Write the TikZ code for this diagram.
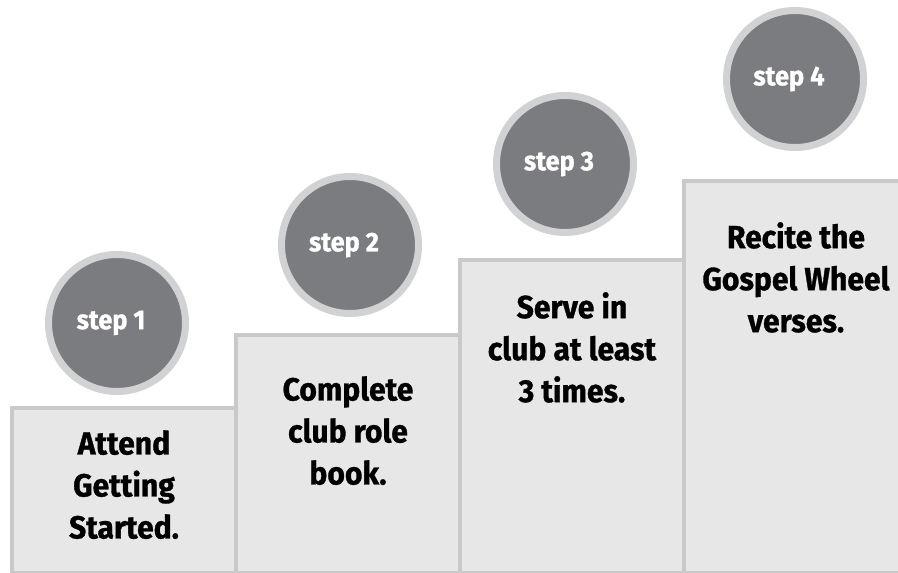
\documentclass[tikz,border=0pt]{standalone}
\usepackage{fontspec}
\setmainfont{Fira Sans}[FakeStretch=0.94,BoldFeatures={FakeBold=1}]
\usepackage{tikz}
\usetikzlibrary{positioning}
\definecolor{stepgray}{HTML}{7B7C80}
\definecolor{ringgray}{HTML}{D1D2D3}
\definecolor{boxfill}{HTML}{E7E7E7}
\definecolor{boxline}{HTML}{C9C9CA}

\begin{document}
\begin{tikzpicture}[x=1pt,y=1pt]
	\tikzstyle{stepbox}=[rectangle,draw=boxline,fill=boxfill,line width=4pt,anchor=south west,minimum width=224pt,inner sep=0pt,outer sep=0pt]
	\tikzstyle{stepdisc}=[circle,fill=stepgray,draw=ringgray,line width=7pt,minimum size=137pt,inner sep=0pt]
	\tikzstyle{disctext}=[text=white,font=\fontsize{27}{30}\selectfont\bfseries,inner sep=0pt]
	\tikzstyle{steptext}=[align=center,font=\fontsize{32}{42}\selectfont\bfseries,inner sep=0pt,anchor=north]
	\useasboundingbox (0,0) rectangle (898,573);
	\fill[white] (0,0) rectangle (898,573);
	% the four stairs
	\node[stepbox,minimum height=165pt](b1) at (12,0){};
	\node[stepbox,minimum height=238pt](b2) at (236,0){};
	\node[stepbox,minimum height=313pt](b3) at (460,0){};
	\node[stepbox,minimum height=392pt](b4) at (684,0){};
	\node[steptext,below=22pt of b1.north](t1){Attend\\Getting\\Started.};
	\node[steptext,below=41pt of b2.north](t2){Complete\\club role\\book.};
	\node[steptext,below=32pt of b3.north](t3){Serve in\\club at least\\3 times.};
	\node[steptext,below=41pt of b4.north](t4){Recite the\\Gospel Wheel\\verses.};
	% step discs
	\node[stepdisc](c1) at (117,250){};
	\node[stepdisc](c2) at (350,328){};
	\node[stepdisc](c3) at (565,409){};
	\node[stepdisc](c4) at (795,494){};
	\node[disctext] at ([xshift=-6pt]c1.center){step 1};
	\node[disctext] at ([xshift=-6pt]c2.center){step 2};
	\node[disctext] at ([xshift=-6pt]c3.center){step 3};
	\node[disctext] at ([xshift=-6pt]c4.center){step 4};
\end{tikzpicture}
\end{document}
